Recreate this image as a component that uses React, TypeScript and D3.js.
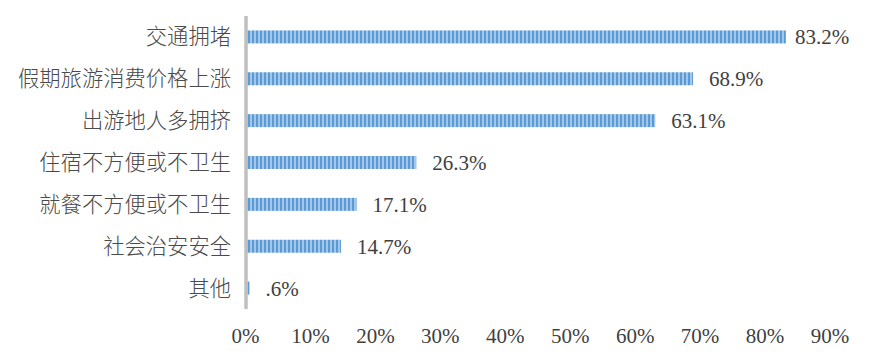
import * as React from 'react';
import * as d3 from 'd3';

const categories = ['交通拥堵', '假期旅游消费价格上涨', '出游地人多拥挤', '住宿不方便或不卫生', '就餐不方便或不卫生', '社会治安安全', '其他'];
const values = [83.2, 68.9, 63.1, 26.3, 17.1, 14.7, 0.6];
const valueLabels = ['83.2%', '68.9%', '63.1%', '26.3%', '17.1%', '14.7%', '.6%'];
const ticks = [0, 10, 20, 30, 40, 50, 60, 70, 80, 90];

const W = 878;
const H = 360;
const serif = '"Liberation Serif", "Times New Roman", serif';
const cjk = '"Noto Sans CJK SC", "Noto Sans", sans-serif';
const textColor = '#404040';

const draw = (svgNode) => {
	const svg = d3.select(svgNode);
	svg.html('');

	const defs = svg.append('defs');
	const pat = defs.append('pattern')
		.attr('id', 'stripes')
		.attr('patternUnits', 'userSpaceOnUse')
		.attr('width', 4)
		.attr('height', 4);
	pat.append('rect').attr('width', 4).attr('height', 4).attr('fill', '#A3C7EB');
	pat.append('rect').attr('width', 2).attr('height', 4).attr('fill', '#5B9BD5');

	const x = d3.scaleLinear().domain([0, 90]).range([245.5, 830]);
	const y = d3.scaleBand().domain(categories).range([16, 309]).paddingInner(0.69).paddingOuter(0.345);

	const data = categories.map((c, i) => ({cat: c, value: values[i], label: valueLabels[i]}));

	svg.selectAll('.bar')
		.data(data)
		.enter().append('rect')
		.attr('class', 'bar')
		.attr('x', x(0))
		.attr('y', d => y(d.cat))
		.attr('width', d => x(d.value) - x(0))
		.attr('height', y.bandwidth())
		.attr('fill', 'url(#stripes)');

	// vertical axis line
	svg.append('line')
		.attr('x1', 246).attr('x2', 246)
		.attr('y1', y.range()[0]).attr('y2', y.range()[1])
		.attr('stroke', '#BFBFBF')
		.attr('stroke-width', 3.5);

	svg.selectAll('.cat')
		.data(data)
		.enter().append('text')
		.attr('class', 'cat')
		.attr('x', 231)
		.attr('y', d => y(d.cat) + y.bandwidth() / 2 + 7.5)
		.attr('text-anchor', 'end')
		.style('font-family', cjk)
		.style('font-size', '21.3px')
		.style('font-weight', 300)
		.attr('fill', '#4a4a4a')
		.text(d => d.cat);

	svg.selectAll('.val')
		.data(data)
		.enter().append('text')
		.attr('class', 'val')
		.attr('x', d => Math.min(x(d.value) + 16, W - 83))
		.attr('y', d => y(d.cat) + y.bandwidth() / 2 + 7.5)
		.style('font-family', serif)
		.style('font-size', '21px')
		.attr('fill', textColor)
		.text(d => d.label);

	svg.selectAll('.tick')
		.data(ticks)
		.enter().append('text')
		.attr('class', 'tick')
		.attr('x', d => x(d))
		.attr('y', 343)
		.attr('text-anchor', 'middle')
		.style('font-family', serif)
		.style('font-size', '21px')
		.attr('fill', textColor)
		.text(d => d + '%');
};

const App = () => {
	const ref = React.useRef(null);
	React.useEffect(() => {
		draw(ref.current);
	}, []);
	return (
		<svg
			ref={ref}
			width={W}
			height={H}
			style={{position: 'absolute', left: 0, top: 0, background: '#fff'}}
		/>
	);
};

export default App;
